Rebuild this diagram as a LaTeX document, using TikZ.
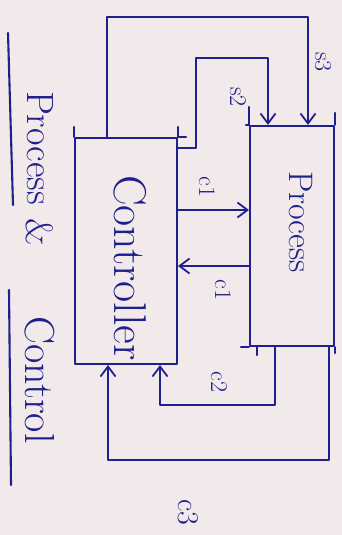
\documentclass[tikz,border=0pt]{standalone}
\usetikzlibrary{arrows.meta}
\definecolor{paper}{RGB}{242,233,235}
\definecolor{ink}{RGB}{30,32,140}
\begin{document}
\begin{tikzpicture}[x=1pt,y=-1pt,
  pen/.style={draw=ink, line width=2.1pt, line cap=round, line join=round},
  flow/.style={pen, -{Straight Barb[length=10pt,width=15pt,line width=1.8pt]}},
  block/.style={pen, rectangle, inner sep=0pt},
  hand/.style={text=ink, rotate=-90, inner sep=0pt},
  tag/.style={hand, font=\fontsize{24}{24}\selectfont}
]
% paper and frame
\fill[paper] (0,0) rectangle (342,535);
\useasboundingbox (0,0) rectangle (342,535);

% title, written sideways and underlined
\node[hand, font=\fontsize{38}{38}\selectfont] (tProcess) at (40,148) {Process};
\node[hand, font=\fontsize{38}{38}\selectfont] (tAnd) at (40,232) {\&};
\node[hand, font=\fontsize{42}{42}\selectfont] (tControl) at (40,380) {Control};
\coordinate (u1a) at (8,33);  \coordinate (u1b) at (13,205);
\coordinate (u2a) at (9,290); \coordinate (u2b) at (11,485);
\draw[pen] (u1a) -- (u1b);
\draw[pen] (u2a) -- (u2b);

% the two blocks
\node[block, minimum width=102pt, minimum height=226pt] (ctrl) at (126,251) {};
\node[block, minimum width=84pt, minimum height=220pt] (proc) at (292,236) {};
\node[hand, font=\fontsize{46}{46}\selectfont] (ctrlText) at (130,268) {Controller};
\node[hand, font=\fontsize{34}{34}\selectfont] (procText) at (301,222) {Process};

% corner overhangs of the hand-drawn boxes
\draw[pen] (proc.north west) -- ++(0,-18);
\draw[pen] (proc.north east) -- ++(0,-12);
\draw[pen] (proc.north west) -- ++(-3,0);
\draw[pen] (proc.south west) -- ++(-8,0);
\draw[pen] (proc.south west) ++(8,0) -- ++(0,8);
\draw[pen] (proc.south east) -- ++(0,6);
\draw[pen] (ctrl.north west) -- ++(0,-10);
\draw[pen] (ctrl.north east) -- ++(8,0);
\draw[pen] (ctrl.north east) -- ++(0,-10);

% s3: controller top round to process top
\coordinate (s3a) at (107,17);
\coordinate (s3b) at (308,17);
\draw[flow] (ctrl.north -| s3a) -- (s3a) -- (s3b) -- (s3b |- proc.north);
\node[tag] (s3) at (323,62) {s3};

% s2: controller side round to process top
\coordinate (s2a) at (196,148);
\coordinate (s2b) at (196,58);
\coordinate (s2c) at (268,58);
\draw[flow] (ctrl.east |- s2a) -- (s2a) -- (s2b) -- (s2c) -- (s2c |- proc.north);
\node[tag] (s2) at (238,97) {s2};

% c1: controller to process
\coordinate (c1a) at (0,210);
\draw[flow] (ctrl.east |- c1a) -- (proc.west |- c1a);
\node[tag] (c1t) at (207,187) {c1};

% c1: process back to controller
\coordinate (c1b) at (0,266);
\draw[flow] (proc.west |- c1b) -- (ctrl.east |- c1b);
\node[tag] (c1u) at (223,290) {c1};

% c2: process bottom round to controller bottom
\coordinate (c2a) at (275,405);
\coordinate (c2b) at (160,405);
\draw[flow] (proc.south -| c2a) -- (c2a) -- (c2b) -- (c2b |- ctrl.south);
\node[tag] (c2) at (219,382) {c2};

% c3: process corner round to controller bottom
\coordinate (c3a) at (329,460);
\coordinate (c3b) at (108,460);
\draw[flow] (proc.south -| c3a) -- (c3a) -- (c3b) -- (c3b |- ctrl.south);
\node[tag, font=\fontsize{30}{30}\selectfont] (c3) at (188,512) {c3};
\end{tikzpicture}
\end{document}
